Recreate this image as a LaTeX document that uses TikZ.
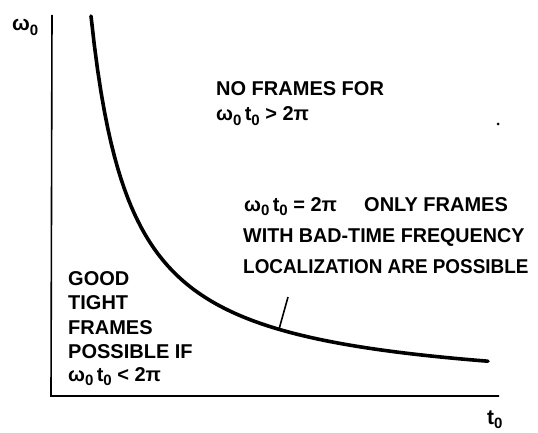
\documentclass[tikz,border=0pt]{standalone}
\usepackage{graphicx}
\usepackage{fontspec}
\setmainfont{Liberation Sans}
\newcommand\zsub{\raisebox{-0.45ex}{\fontsize{15}{15}\selectfont 0}}
\newcommand\om{ω\zsub}
\newcommand\tz{t\zsub}
\tikzset{
  lbl/.style={anchor=base west, inner sep=0pt, font=\fontsize{20}{21}\selectfont\bfseries},
  axisline/.style={line width=1.6pt},
  curveline/.style={line width=3.6pt, line cap=round},
  tickline/.style={line width=1.6pt}
}
\begin{document}
\begin{tikzpicture}[x=1pt,y=-1pt]
\useasboundingbox (0,0) rectangle (538,433);
% axes
\coordinate (top) at (52,15);
\coordinate (origin) at (51,396);
\coordinate (right) at (499,396);
\draw[axisline] (top) -- (origin) -- (right);
\node[lbl, font=\fontsize{21}{22}\selectfont\bfseries] (wlab) at (12,31) {\om};
\node[lbl, font=\fontsize{21}{22}\selectfont\bfseries] (tlab) at (487,424) {\tz};
% curve: omega0 * t0 = const
\draw[curveline] plot[domain=91:488, samples=120] (\x, {396-15200/(\x-51)});
\coordinate (tickbot) at (279,329.3);
\coordinate (ticktop) at (288,297);
\draw[tickline] (tickbot) -- (ticktop);
% texts
\node[lbl] (t1) at (216,96) {NO FRAMES FOR};
\node[lbl] (t2) at (216,121) {\om\,\tz\ > 2π};
\node[lbl] (t3) at (244,211) {\om\,\tz\ = 2π};
\node[lbl] (t3b) at (364,211) {ONLY FRAMES};
\node[lbl] (t4) at (243,242) {\scalebox{0.985}[1]{WITH BAD-TIME FREQUENCY}};
\node[lbl] (t5) at (243,273) {\scalebox{0.945}[1]{LOCALIZATION ARE POSSIBLE}};
\node[lbl] (g1) at (68,285) {GOOD};
\node[lbl] (g2) at (68,309) {TIGHT};
\node[lbl] (g3) at (68,334) {FRAMES};
\node[lbl] (g4) at (68,358) {POSSIBLE IF};
\node[lbl] (g5) at (68,381) {\om\,\tz\ < 2π};
\fill (498,124) circle (1.5);
\end{tikzpicture}
\end{document}
